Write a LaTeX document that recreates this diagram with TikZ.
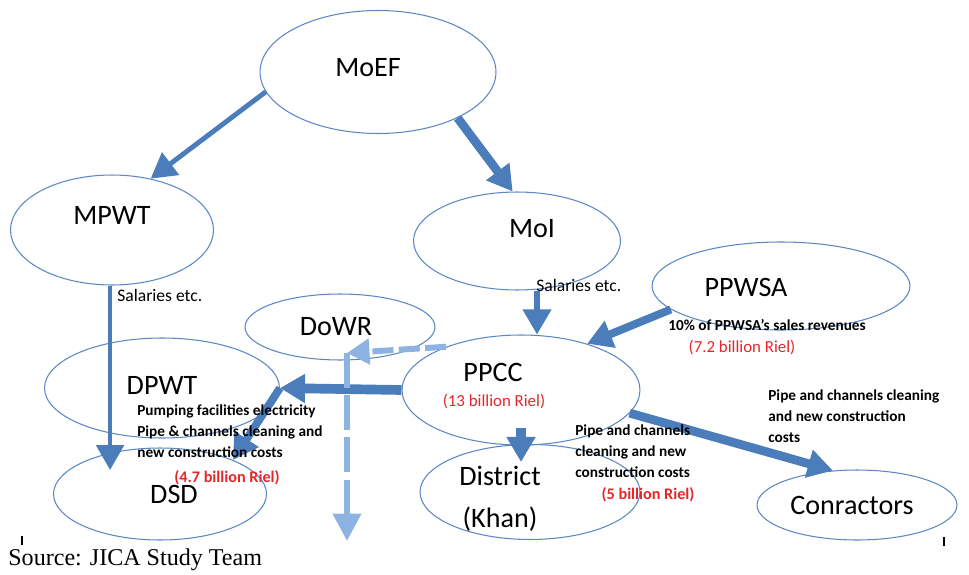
\documentclass[tikz,border=0pt]{standalone}
\usepackage{fontspec}
\setmainfont{Carlito}
\newfontfamily\sourcefont{Liberation Serif}
\usepackage{xcolor}
\usetikzlibrary{shapes.geometric, arrows.meta}
\definecolor{flowblue}{HTML}{4A7DBA}
\definecolor{rimblue}{HTML}{5B87C5}
\definecolor{paleblue}{HTML}{8DB3E2}
\definecolor{rielred}{HTML}{E5262A}

\begin{document}
\begin{tikzpicture}[x=0.02cm, y=-0.02cm,
    org/.style={ellipse, draw=rimblue, line width=0.6pt, inner sep=0pt},
    orgtext/.style={inner sep=0pt, align=center, font=\fontsize{16}{24}\selectfont},
    flow/.style={draw=flowblue, -{Triangle[length=5mm, width=5.5mm]}},
    hint/.style={inner sep=0pt, anchor=west, font=\fontsize{10}{12}\selectfont},
    costnote/.style={inner sep=0pt, anchor=north west, align=left, font=\bfseries\fontsize{8.7}{12}\selectfont},
    riel/.style={inner sep=0pt, text=rielred, font=\fontsize{9.6}{12}\selectfont}]
    \useasboundingbox (0,0) rectangle (969,574);

    % ellipses
    \node[org, minimum width=4.72cm, minimum height=2.46cm] (moef) at (378,72) {};
    \node[org, minimum width=4.06cm, minimum height=2.2cm] (mpwt) at (112,230) {};
    \node[org, minimum width=4.14cm, minimum height=1.96cm] (moi) at (517,241) {};
    \node[org, minimum width=5.16cm, minimum height=1.76cm] (ppwsa) at (781,286) {};
    \node[org, minimum width=3.8cm, minimum height=1.32cm] (dowr) at (340,327) {};
    \node[org, minimum width=4.7cm, minimum height=2cm] (dpwt) at (162,388) {};
    \node[org, minimum width=4.76cm, minimum height=2.2cm] (ppcc) at (521,390) {};
    \node[org, minimum width=4.26cm, minimum height=1.84cm] (dsd) at (160,494) {};
    \node[org, minimum width=4.4cm, minimum height=1.9cm] (district) at (530,492) {};
    \node[org, minimum width=4cm, minimum height=1.4cm] (conr) at (857,505) {};

    % names
    \node[orgtext] (moeftext) at (368,68) {MoEF};
    \node[orgtext] (mpwttext) at (112,215) {MPWT};
    \node[orgtext] (moitext) at (532,229) {MoI};
    \node[orgtext] (ppwsatext) at (746,287) {PPWSA};
    \node[orgtext] (dowrtext) at (336,327) {DoWR};
    \node[orgtext] (dpwttext) at (162,385) {DPWT};
    \node[orgtext] (ppcctext) at (493,372) {PPCC};
    \node[orgtext] (dsdtext) at (174,494) {DSD};
    \node[orgtext] (districttext) at (500,499) {District\\(Khan)};
    \node[orgtext] (conrtext) at (852,505) {Conractors};

    % money flows
    \draw[flow, line width=2.8pt] (moef.190) -- (mpwt.53);
    \draw[flow, line width=5pt] (moef.330) -- (moi.95);
    \draw[flow, line width=2.3pt, shorten >=0.48cm] (mpwt.268) -- (mpwt.268 |- dsd.center);
    \draw[flow, line width=3pt] ([xshift=0.4cm]moi.south) -- ([xshift=0.4cm]moi.south |- ppcc.north);
    \draw[flow, line width=4.5pt] (ppwsa.192) -- (ppcc.35);
    \draw[flow, line width=5.5pt] (ppcc.west) -- (dpwt.east);
    \draw[flow, line width=4.5pt] (dpwt.east) -- (dsd.25);
    \draw[flow, line width=6pt] ([yshift=0.36cm]ppcc.south) -- ([yshift=-0.36cm]ppcc.south |- district.north);
    \draw[flow, line width=5pt] (ppcc.348) -- (conr.125);

    % dashed branch
    \coordinate (bend) at (347,353);
    \coordinate (down) at (347,541);
    \draw[paleblue, line width=3.4pt, dash pattern=on 12pt off 3pt,
          -{Triangle[length=4.5mm, width=5mm]}] (ppcc.150) -- (bend);
    \draw[paleblue, line width=3.4pt, dash pattern=on 20pt off 4pt,
          -{Triangle[length=5.5mm, width=5.5mm]}] (bend) -- (down);

    % labels
    \node[hint] (salmpwt) at (117,295) {Salaries etc.};
    \node[hint] (salmoi) at (536,285) {Salaries etc.};
    \node[costnote, anchor=west] (ppwsanote) at (668,325) {10\% of PPWSA’s sales revenues};
    \node[riel] (ppwsariel) at (742,347) {(7.2 billion Riel)};
    \node[riel] (ppccriel) at (494,401) {(13 billion Riel)};
    \node[costnote] (dpwtnote) at (137,404) {Pumping facilities electricity\\Pipe \& channels cleaning and\\new construction costs};
    \node[riel, font=\bfseries\fontsize{9.2}{12}\selectfont] (dpwtriel) at (227,478) {(4.7 billion Riel)};
    \node[costnote] (districtnote) at (575,424) {Pipe and channels\\cleaning and new\\construction costs};
    \node[riel, font=\bfseries\fontsize{9.2}{12}\selectfont] (districtriel) at (648,495) {(5 billion Riel)};
    \node[costnote] (conrnote) at (768,389) {Pipe and channels cleaning\\and new construction\\costs};

    % frame ticks and source
    \draw[line width=1.4pt] (22,536) -- (22,545);
    \draw[line width=1.4pt] (944,537) -- (944,546);
    \node[inner sep=0pt, anchor=west, font=\sourcefont\fontsize{13.7}{16}\selectfont] (source) at (8,560) {Source: JICA Study Team};
\end{tikzpicture}
\end{document}
